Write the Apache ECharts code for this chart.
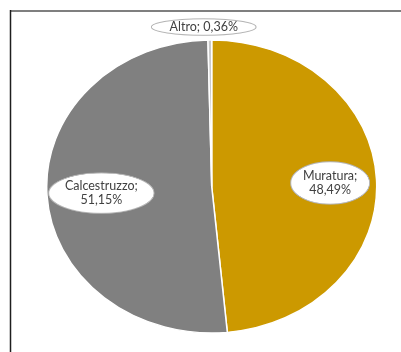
<!DOCTYPE html>
<html>
<head>
<meta charset="utf-8">
<script src="https://cdn.jsdelivr.net/npm/echarts@6/dist/echarts.min.js"></script>
<style>
  html, body { margin: 0; padding: 0; background: #fff; }
  #wrap { position: relative; width: 401px; height: 352px; overflow: hidden; }
  #pie, #lab { position: absolute; left: 0; top: 0; width: 401px; height: 352px; }
  /* the pie is drawn as a flattened (elliptical) disc */
  #pie { transform: scaleY(0.888); transform-origin: 211.7px 186.5px; }
</style>
</head>
<body>
<div id="wrap"><div id="pie"></div><div id="lab"></div></div>
<script>
// Quota per tipologia strutturale (%)
const categories = ['Muratura', 'Calcestruzzo', 'Altro'];
const shares = [48.49, 51.15, 0.36];

// styling
const sliceColors = ['#cc9900', '#808080', '#c8c8c8'];
const labelSep = ['\n', '\n', ' '];
const labelPad = [[8, 13], [7, 17], [2, 19]];
const labelBox = [[78, 43], [105, 41], [98, 18]];
const labelShift = [[33, 0.5], [-25, 1.6], [-7, -74]];
const CENTER = [211.7, 186.5];
const RADIUS = 165;

function ellipseImage(w, h) {
  const s = 2;
  const c = document.createElement('canvas');
  c.width = w * s; c.height = h * s;
  const g = c.getContext('2d');
  g.beginPath();
  g.ellipse(w * s / 2, h * s / 2, w * s / 2 - 1.5, h * s / 2 - 1.5, 0, 0, Math.PI * 2);
  g.fillStyle = '#ffffff';
  g.fill();
  g.lineWidth = 2;
  g.strokeStyle = '#b4b4b4';
  g.stroke();
  return c;
}

const fmt = v => v.toFixed(2).replace('.', ',') + '%';

// slices
const pieChart = echarts.init(document.getElementById('pie'), null, { renderer: 'svg' });
pieChart.setOption({
  animation: false,
  series: [{
    type: 'pie',
    center: CENTER,
    radius: RADIUS,
    startAngle: 90,
    clockwise: true,
    silent: true,
    label: { show: false },
    labelLine: { show: false },
    itemStyle: { borderColor: '#ffffff', borderWidth: 1.5 },
    data: categories.map((name, i) => ({
      name, value: shares[i], itemStyle: { color: sliceColors[i] }
    }))
  }]
});

// callouts and frame
const labChart = echarts.init(document.getElementById('lab'));
labChart.setOption({
  animation: false,
  graphic: [
    { type: 'line', shape: { x1: 10, y1: 11, x2: 401, y2: 11 },
      style: { stroke: '#7f7f7f', lineWidth: 2 }, silent: true },
    { type: 'line', shape: { x1: 10.5, y1: 10, x2: 10.5, y2: 352 },
      style: { stroke: '#1e1e1e', lineWidth: 1.5 }, silent: true }
  ],
  series: [{
    type: 'pie',
    center: CENTER,
    radius: RADIUS,
    startAngle: 90,
    clockwise: true,
    silent: true,
    itemStyle: { color: 'rgba(0,0,0,0)', borderWidth: 0 },
    labelLine: { show: false },
    label: {
      show: true,
      position: 'inside',
      fontFamily: 'Lato',
      fontSize: 12.5,
      lineHeight: 14,
      color: '#404040',
      align: 'center'
    },
    labelLayout: p => ({ dx: labelShift[p.dataIndex][0], dy: labelShift[p.dataIndex][1] }),
    data: categories.map((name, i) => ({
      name,
      value: shares[i],
      label: {
        formatter: name + ';' + labelSep[i] + fmt(shares[i]),
        padding: labelPad[i],
        backgroundColor: { image: ellipseImage(labelBox[i][0], labelBox[i][1]) }
      }
    }))
  }]
});
</script>
</body>
</html>
